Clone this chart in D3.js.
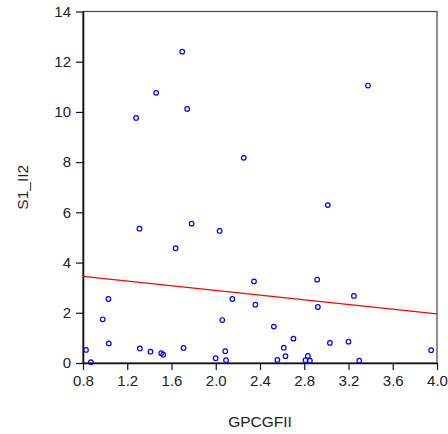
<!DOCTYPE html>
<html>
<head>
<meta charset="utf-8">
<script src="https://cdn.jsdelivr.net/npm/d3@7"></script>
<style>
  body { margin: 0; background: #fff; }
  text { font-family: "Liberation Sans", Arial, sans-serif; fill: #222; }
</style>
</head>
<body>
<svg id="svg1"></svg>
<script>

var width = 448;
var height = 434;
var margin = {top: 11.5, right: 11, bottom: 71, left: 83};

// data
var gpcgfii = [1.697, 1.461, 1.742, 1.280, 2.253, 3.376,
  1.311, 1.782, 2.035, 1.637, 2.346, 1.030, 2.150, 2.358, 0.978, 2.059,
  1.033, 0.827, 1.314, 1.410, 1.507, 1.525, 1.709, 0.872, 1.999, 2.086, 2.093,
  3.013, 2.917, 3.249, 2.923, 2.525, 2.702, 2.615, 2.630, 2.557, 3.032,
  3.200, 2.833, 2.811, 2.851, 3.297, 3.947];
var s1_ii2 = [12.40, 10.76, 10.12, 9.76, 8.17, 11.05,
  5.35, 5.55, 5.26, 4.57, 3.25, 2.55, 2.55, 2.32, 1.74, 1.71,
  0.78, 0.52, 0.58, 0.45, 0.39, 0.33, 0.60, 0.03, 0.19, 0.47, 0.11,
  6.29, 3.32, 2.67, 2.23, 1.45, 0.97, 0.61, 0.27, 0.12, 0.80,
  0.85, 0.28, 0.11, 0.09, 0.09, 0.51];
var fitLine = [[0.8, 3.45], [4.0, 1.96]];
var xTicks = [0.8, 1.2, 1.6, 2.0, 2.4, 2.8, 3.2, 3.6, 4.0];
var yTicks = [0, 2, 4, 6, 8, 10, 12, 14];

var w = width - margin.left - margin.right;
var h = height - margin.top - margin.bottom;

var svg = d3.select("#svg1")
    .attr("width", width)
    .attr("height", height)
  .append("g")
    .attr("transform", "translate(" + margin.left + "," + margin.top + ")");

var x = d3.scaleLinear()
    .domain([0.8, 4.0])
    .range([0, w]);
var y = d3.scaleLinear()
    .domain([0, 14])
    .range([h, 0]);

// frame (top and right)
svg.append("rect")
    .attr("width", w)
    .attr("height", h)
    .attr("fill", "none")
    .attr("stroke", "#444")
    .attr("stroke-width", 1.2);

var xAxis = svg.append("g")
    .attr("transform", "translate(0," + h + ")")
    .call(d3.axisBottom(x).tickValues(xTicks).tickFormat(d3.format(".1f"))
      .tickSize(7).tickSizeOuter(0).tickPadding(5));

var yAxis = svg.append("g")
    .call(d3.axisLeft(y).tickValues(yTicks).tickFormat(d3.format("d"))
      .tickSize(7).tickSizeOuter(0).tickPadding(5));

[xAxis, yAxis].forEach(function(a) {
  a.select(".domain").attr("stroke", "#111").attr("stroke-width", 1.6);
  a.selectAll(".tick line").attr("stroke", "#111").attr("stroke-width", 1.2);
  a.selectAll(".tick text")
    .style("font-family", "Liberation Sans, Arial, sans-serif")
    .style("font-size", "15px")
    .attr("fill", "#222");
});

// regression line
svg.append("path")
    .datum(fitLine)
    .attr("fill", "none")
    .attr("stroke", "#f00")
    .attr("stroke-width", 1.2)
    .attr("d", d3.line()
      .x(function(d) { return x(d[0]); })
      .y(function(d) { return y(d[1]); }));

// points
svg.append("g")
    .selectAll("circle")
    .data(gpcgfii)
    .enter()
    .append("circle")
      .attr("cx", function(d) { return x(d); })
      .attr("cy", function(d, i) { return y(s1_ii2[i]); })
      .attr("r", 2.3)
      .attr("fill", "none")
      .attr("stroke", "#00f")
      .attr("stroke-width", 1.2);

// axis titles
svg.append("text")
    .attr("x", w / 2)
    .attr("y", h + 64)
    .attr("text-anchor", "middle")
    .style("font-size", "15.5px")
    .text("GPCGFII");

svg.append("text")
    .attr("transform", "translate(" + (-55) + "," + (h / 2) + ") rotate(-90)")
    .attr("text-anchor", "middle")
    .style("font-size", "15.5px")
    .text("S1_II2");

</script>
</body>
</html>
